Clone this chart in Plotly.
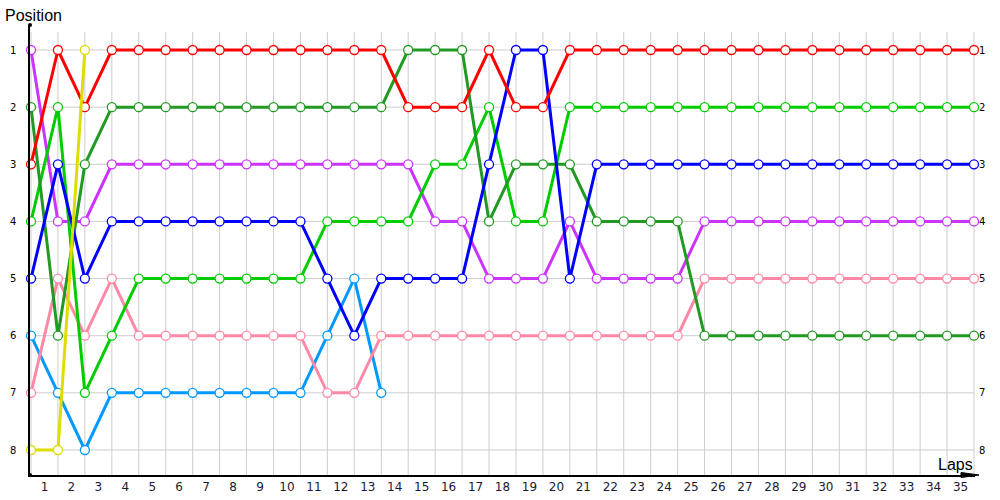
import plotly.graph_objects as go

laps = list(range(36))
lap_labels = [str(i) for i in range(1, 36)]
positions = [1, 2, 3, 4, 5, 6, 7, 8]

red = [3, 1, 2, 1, 1, 1, 1, 1, 1, 1,
       1, 1, 1, 1, 2, 2, 2, 1, 2, 2,
       1, 1, 1, 1, 1, 1, 1, 1, 1, 1,
       1, 1, 1, 1, 1, 1]
dark_green = [2, 6, 3, 2, 2, 2, 2, 2, 2, 2,
              2, 2, 2, 2, 1, 1, 1, 4, 3, 3,
              3, 4, 4, 4, 4, 6, 6, 6, 6, 6,
              6, 6, 6, 6, 6, 6]
bright_green = [4, 2, 7, 6, 5, 5, 5, 5, 5, 5,
                5, 4, 4, 4, 4, 3, 3, 2, 4, 4,
                2, 2, 2, 2, 2, 2, 2, 2, 2, 2,
                2, 2, 2, 2, 2, 2]
blue = [5, 3, 5, 4, 4, 4, 4, 4, 4, 4,
        4, 5, 6, 5, 5, 5, 5, 3, 1, 1,
        5, 3, 3, 3, 3, 3, 3, 3, 3, 3,
        3, 3, 3, 3, 3, 3]
purple = [1, 4, 4, 3, 3, 3, 3, 3, 3, 3,
          3, 3, 3, 3, 3, 4, 4, 5, 5, 5,
          4, 5, 5, 5, 5, 4, 4, 4, 4, 4,
          4, 4, 4, 4, 4, 4]
pink = [7, 5, 6, 5, 6, 6, 6, 6, 6, 6,
        6, 7, 7, 6, 6, 6, 6, 6, 6, 6,
        6, 6, 6, 6, 6, 5, 5, 5, 5, 5,
        5, 5, 5, 5, 5, 5]
light_blue = [6, 7, 8, 7, 7, 7, 7, 7, 7, 7, 7, 6, 5, 7]
yellow = [8, 8, 1]

series = [
    ("light_blue", light_blue, "#0099ff"),
    ("pink", pink, "#ff88a6"),
    ("purple", purple, "#cc33ff"),
    ("bright_green", bright_green, "#00cc00"),
    ("dark_green", dark_green, "#229922"),
    ("blue", blue, "#0000ff"),
    ("red", red, "#ff0000"),
    ("yellow", yellow, "#dddd00"),
]

fig = go.Figure()
for name, vals, col in series:
    fig.add_trace(go.Scatter(
        x=laps[:len(vals)], y=vals, mode="lines+markers", name=name,
        line=dict(color=col, width=3),
        marker=dict(symbol="circle", size=9, color="white",
                    line=dict(color=col, width=1.3)),
        cliponaxis=False, hoverinfo="skip", showlegend=False,
    ))

# invisible trace to carry the right-hand axis
fig.add_trace(go.Scatter(x=[0], y=[1], yaxis="y2", mode="markers",
                         marker=dict(opacity=0), hoverinfo="skip", showlegend=False))

shapes = []
# vertical grid lines at each lap
for k in laps:
    shapes.append(dict(type="line", xref="x", yref="y", x0=k, x1=k, y0=0.685, y1=8.4375,
                       line=dict(color="#cccccc", width=1), layer="below"))
# horizontal grid lines at each position
for p in positions:
    shapes.append(dict(type="line", xref="x", yref="y", x0=0, x1=35, y0=p, y1=p,
                       line=dict(color="#cccccc", width=1), layer="below"))
# axis end dots
for yy in [0, 1]:
    shapes.append(dict(type="circle", xref="paper", yref="paper", xsizemode="pixel",
                       ysizemode="pixel", xanchor=0, yanchor=yy,
                       x0=-2, x1=2, y0=-2, y1=2, fillcolor="black", line=dict(width=0)))
# arrow head at the end of the x axis
shapes.append(dict(type="path", xref="paper", yref="paper", xsizemode="pixel",
                   ysizemode="pixel", xanchor=1, yanchor=0,
                   path="M -14,-2.5 L 4,0 L -14,2.5 Z", fillcolor="black",
                   line=dict(color="black", width=1)))

fig.update_layout(
    width=1000, height=500,
    margin=dict(l=30, r=25, t=25, b=25, autoexpand=False),
    paper_bgcolor="white", plot_bgcolor="white",
    shapes=shapes,
    xaxis=dict(range=[-0.037, 35.037], showgrid=False, zeroline=False,
               showline=True, linecolor="black", linewidth=1.5, automargin=False,
               tickmode="array", tickvals=[k - 0.5 for k in range(1, 36)],
               ticktext=lap_labels, ticks="",
               tickfont=dict(family="DejaVu Sans", size=12, color="#1a1a33")),
    yaxis=dict(range=[8.4375, 0.5625], showgrid=False, zeroline=False,
               showline=True, linecolor="black", linewidth=1.5, automargin=False,
               tickmode="array", tickvals=positions, ticks="",
               ticklabelstandoff=10,
               tickfont=dict(family="DejaVu Sans", size=10, color="black")),
    yaxis2=dict(range=[8.4375, 0.5625], overlaying="y", side="right",
                showgrid=False, zeroline=False, showline=False, automargin=False,
                tickmode="array", tickvals=positions, ticks="",
                ticklabelstandoff=3,
                tickfont=dict(family="DejaVu Sans", size=10, color="black")),
    annotations=[
        dict(text="Position", xref="paper", yref="paper", x=-27 / 945, y=(475 - 15) / 450,
             xanchor="left", yanchor="middle", showarrow=False,
             font=dict(family="Liberation Sans", size=16, color="black")),
        dict(text="Laps", xref="paper", yref="paper", x=(975 - 30) / 945, y=(475 - 464) / 450,
             xanchor="right", yanchor="middle", showarrow=False,
             font=dict(family="Liberation Sans", size=16, color="black")),
    ],
)

fig.write_html("out.html", config={"displayModeBar": False},
               post_script="document.body.style.margin='0';document.body.style.overflow='hidden';")
